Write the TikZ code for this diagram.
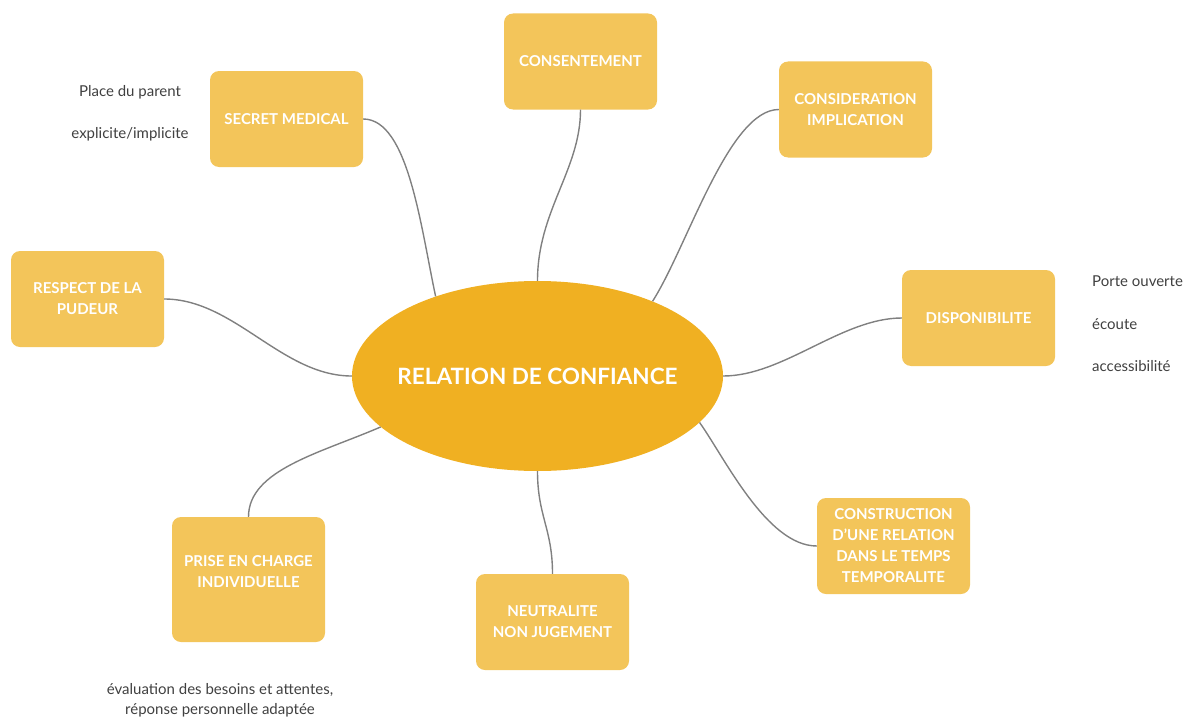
\documentclass[tikz,border=0pt]{standalone}
\usepackage{fontspec}
\setmainfont{Lato}
\usetikzlibrary{shapes.geometric}
\definecolor{leafcol}{HTML}{F3C55A}
\definecolor{hubcol}{HTML}{F0B022}
\definecolor{linkcol}{HTML}{808080}
\definecolor{notecol}{HTML}{404040}
\tikzset{
  leaf/.style={fill=leafcol,rounded corners=9pt,minimum width=153pt,minimum height=96pt,
    inner sep=0pt,align=center,text=white,font=\fontsize{15}{21}\selectfont\bfseries},
  hub/.style={fill=hubcol,ellipse,minimum width=371pt,minimum height=190pt,inner sep=0pt,
    text=white,font=\fontsize{22.5}{26}\selectfont\bfseries},
  note/.style={text=notecol,inner sep=0pt,font=\fontsize{15}{20}\selectfont},
  link/.style={draw=linkcol,line width=1.4pt}
}

\begin{document}
\begin{tikzpicture}[x=1pt,y=-1pt]
  \useasboundingbox (0,0) rectangle (1185,717);

  \node[hub] (hub) at (537.5,376) {\makebox[0pt]{RELATION DE CONFIANCE}};

  \node[leaf] (consent) at (580.5,61.5) {CONSENTEMENT};
  \node[leaf] (secret) at (286.5,119) {SECRET MEDICAL};
  \node[leaf] (consid) at (855.5,109.5) {CONSIDERATION\\IMPLICATION};
  \node[leaf] (respect) at (87.5,299) {RESPECT DE LA\\PUDEUR};
  \node[leaf] (dispo) at (978.5,318) {DISPONIBILITE};
  \node[leaf] (constr) at (893.5,546) {CONSTRUCTION\\D'UNE RELATION\\DANS LE TEMPS\\TEMPORALITE};
  \node[leaf] (neutral) at (552.5,622) {NEUTRALITE\\NON JUGEMENT};
  \node[leaf,minimum height=125pt] (prise) at (248.5,579.5) {};
  \node[leaf,fill=none,minimum size=0pt] (prisetxt) at (248.5,572) {PRISE EN CHARGE\\INDIVIDUELLE};

  % notes beside the boxes
  \node[note,align=center,font=\fontsize{15}{42}\selectfont] (parent) at (130,113) {Place du parent\\explicite/implicite};
  \node[note,align=left,anchor=west,font=\fontsize{15}{42.5}\selectfont] (acces) at (1092,324) {Porte ouverte\\écoute\\accessibilité};
  \node[note,align=center] (besoins) at (220,700) {évaluation des besoins et attentes,\\réponse personnelle adaptée};

  % links to the centre
  \draw[link] (secret.east) .. controls +(45,0) and +(-15,-70) .. (hub.142);
  \draw[link] (consent.south) .. controls +(0,60) and +(0,-70) .. (hub.north);
  \draw[link] (consid.west) .. controls +(-50,0) and +(35,-55) .. (hub.33);
  \draw[link] (respect.east) .. controls +(70,0) and +(-70,0) .. (hub.west);
  \draw[link] (dispo.west) .. controls +(-60,0) and +(60,0) .. (hub.east);
  \draw[link] (constr.west) .. controls +(-50,0) and +(25,35) .. (hub.-16);
  \draw[link] (neutral.north) .. controls +(0,-45) and +(0,45) .. (hub.south);
  \draw[link] (prise.north) .. controls +(0,-47) and +(-60,26) .. (hub.198);
\end{tikzpicture}
\end{document}
